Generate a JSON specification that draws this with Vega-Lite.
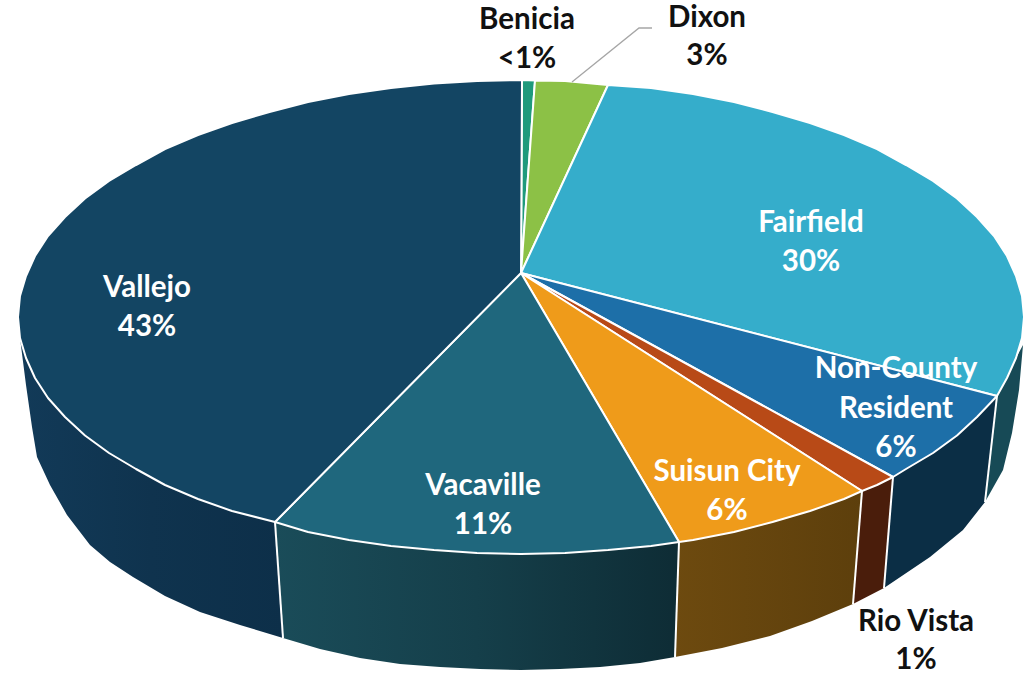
{
"$schema":"https://vega.github.io/schema/vega-lite/v6.json",
"width":1031,"height":674,"padding":0,"autosize":{"type":"none"},
"background":"white",
"config":{"view":{"stroke":null}},
"resolve":{"scale":{"fill":"independent"}},
"datasets":{
"top":[
{"slice":"Benicia","i":0,"x":521,"y":273},{"slice":"Benicia","i":1,"x":522,"y":80},{"slice":"Benicia","i":2,"x":535,"y":80.5},
{"slice":"Dixon","i":0,"x":521,"y":273},{"slice":"Dixon","i":1,"x":535,"y":80.5},{"slice":"Dixon","i":2,"x":565,"y":81},{"slice":"Dixon","i":3,"x":608,"y":85},
{"slice":"Fairfield","i":0,"x":521,"y":273},{"slice":"Fairfield","i":1,"x":608,"y":85},{"slice":"Fairfield","i":2,"x":651,"y":88},{"slice":"Fairfield","i":3,"x":693,"y":94},{"slice":"Fairfield","i":4,"x":734,"y":102},{"slice":"Fairfield","i":5,"x":772.5,"y":112},{"slice":"Fairfield","i":6,"x":810,"y":123},{"slice":"Fairfield","i":7,"x":844,"y":135},{"slice":"Fairfield","i":8,"x":877,"y":149},{"slice":"Fairfield","i":9,"x":906,"y":165},{"slice":"Fairfield","i":10,"x":933,"y":181},{"slice":"Fairfield","i":11,"x":957,"y":198.5},{"slice":"Fairfield","i":12,"x":977,"y":217},{"slice":"Fairfield","i":13,"x":994,"y":236},{"slice":"Fairfield","i":14,"x":1007,"y":256},{"slice":"Fairfield","i":15,"x":1016,"y":276},{"slice":"Fairfield","i":16,"x":1022,"y":296},{"slice":"Fairfield","i":17,"x":1024,"y":317},{"slice":"Fairfield","i":18,"x":1022,"y":338},{"slice":"Fairfield","i":19,"x":1016,"y":358},{"slice":"Fairfield","i":20,"x":1007,"y":378},{"slice":"Fairfield","i":21,"x":997,"y":396},
{"slice":"Non-County Resident","i":0,"x":521,"y":273},{"slice":"Non-County Resident","i":1,"x":997,"y":396},{"slice":"Non-County Resident","i":2,"x":977,"y":417},{"slice":"Non-County Resident","i":3,"x":957,"y":435.5},{"slice":"Non-County Resident","i":4,"x":933,"y":453},{"slice":"Non-County Resident","i":5,"x":906,"y":469},{"slice":"Non-County Resident","i":6,"x":893,"y":477},
{"slice":"Rio Vista","i":0,"x":521,"y":273},{"slice":"Rio Vista","i":1,"x":893,"y":477},{"slice":"Rio Vista","i":2,"x":877,"y":485},{"slice":"Rio Vista","i":3,"x":862,"y":491},
{"slice":"Suisun City","i":0,"x":521,"y":273},{"slice":"Suisun City","i":1,"x":862,"y":491},{"slice":"Suisun City","i":2,"x":844,"y":499},{"slice":"Suisun City","i":3,"x":810,"y":511},{"slice":"Suisun City","i":4,"x":772.5,"y":522},{"slice":"Suisun City","i":5,"x":734,"y":532},{"slice":"Suisun City","i":6,"x":693,"y":540},{"slice":"Suisun City","i":7,"x":679,"y":542},
{"slice":"Vacaville","i":0,"x":521,"y":273},{"slice":"Vacaville","i":1,"x":679,"y":542},{"slice":"Vacaville","i":2,"x":651,"y":546},{"slice":"Vacaville","i":3,"x":608,"y":550},{"slice":"Vacaville","i":4,"x":565,"y":553},{"slice":"Vacaville","i":5,"x":521,"y":554},{"slice":"Vacaville","i":6,"x":477,"y":553},{"slice":"Vacaville","i":7,"x":434,"y":550},{"slice":"Vacaville","i":8,"x":391,"y":546},{"slice":"Vacaville","i":9,"x":349,"y":540},{"slice":"Vacaville","i":10,"x":308,"y":532},{"slice":"Vacaville","i":11,"x":275,"y":522},
{"slice":"Vallejo","i":0,"x":521,"y":273},{"slice":"Vallejo","i":1,"x":275,"y":522},{"slice":"Vallejo","i":2,"x":232,"y":511},{"slice":"Vallejo","i":3,"x":198,"y":499},{"slice":"Vallejo","i":4,"x":165,"y":485},{"slice":"Vallejo","i":5,"x":136,"y":469},{"slice":"Vallejo","i":6,"x":109,"y":453},{"slice":"Vallejo","i":7,"x":85,"y":435.5},{"slice":"Vallejo","i":8,"x":65,"y":417},{"slice":"Vallejo","i":9,"x":48,"y":398},{"slice":"Vallejo","i":10,"x":35,"y":378},{"slice":"Vallejo","i":11,"x":26,"y":358},{"slice":"Vallejo","i":12,"x":20,"y":338},{"slice":"Vallejo","i":13,"x":18,"y":317},{"slice":"Vallejo","i":14,"x":20,"y":296},{"slice":"Vallejo","i":15,"x":26,"y":276},{"slice":"Vallejo","i":16,"x":35,"y":256},{"slice":"Vallejo","i":17,"x":48,"y":236},{"slice":"Vallejo","i":18,"x":65,"y":217},{"slice":"Vallejo","i":19,"x":85,"y":198.5},{"slice":"Vallejo","i":20,"x":109,"y":181},{"slice":"Vallejo","i":21,"x":136,"y":165},{"slice":"Vallejo","i":22,"x":165,"y":149},{"slice":"Vallejo","i":23,"x":198,"y":135},{"slice":"Vallejo","i":24,"x":232,"y":123},{"slice":"Vallejo","i":25,"x":269.5,"y":112},{"slice":"Vallejo","i":26,"x":308,"y":102},{"slice":"Vallejo","i":27,"x":349,"y":94},{"slice":"Vallejo","i":28,"x":391,"y":88},{"slice":"Vallejo","i":29,"x":434,"y":83.6},{"slice":"Vallejo","i":30,"x":477,"y":81},{"slice":"Vallejo","i":31,"x":522,"y":80}
],
"side":[
{"slice":"Vallejo","i":0,"x":20,"y":338},{"slice":"Vallejo","i":1,"x":26,"y":358},{"slice":"Vallejo","i":2,"x":35,"y":378},{"slice":"Vallejo","i":3,"x":48,"y":398},{"slice":"Vallejo","i":4,"x":65,"y":417},{"slice":"Vallejo","i":5,"x":85,"y":435.5},{"slice":"Vallejo","i":6,"x":109,"y":453},{"slice":"Vallejo","i":7,"x":136,"y":469},{"slice":"Vallejo","i":8,"x":165,"y":485},{"slice":"Vallejo","i":9,"x":198,"y":499},{"slice":"Vallejo","i":10,"x":232,"y":511},{"slice":"Vallejo","i":11,"x":275,"y":522},{"slice":"Vallejo","i":12,"x":283,"y":638},{"slice":"Vallejo","i":13,"x":240,"y":625},{"slice":"Vallejo","i":14,"x":200,"y":612},{"slice":"Vallejo","i":15,"x":165,"y":596},{"slice":"Vallejo","i":16,"x":133,"y":577},{"slice":"Vallejo","i":17,"x":110,"y":562},{"slice":"Vallejo","i":18,"x":90,"y":545},{"slice":"Vallejo","i":19,"x":67,"y":515},{"slice":"Vallejo","i":20,"x":50,"y":485},{"slice":"Vallejo","i":21,"x":37,"y":457},{"slice":"Vallejo","i":22,"x":32,"y":427},{"slice":"Vallejo","i":23,"x":26,"y":385},
{"slice":"Vacaville","i":0,"x":275,"y":522},{"slice":"Vacaville","i":1,"x":308,"y":532},{"slice":"Vacaville","i":2,"x":349,"y":540},{"slice":"Vacaville","i":3,"x":391,"y":546},{"slice":"Vacaville","i":4,"x":434,"y":550},{"slice":"Vacaville","i":5,"x":477,"y":553},{"slice":"Vacaville","i":6,"x":521,"y":554},{"slice":"Vacaville","i":7,"x":565,"y":553},{"slice":"Vacaville","i":8,"x":608,"y":550},{"slice":"Vacaville","i":9,"x":651,"y":546},{"slice":"Vacaville","i":10,"x":679,"y":542},{"slice":"Vacaville","i":11,"x":675,"y":657},{"slice":"Vacaville","i":12,"x":640,"y":663},{"slice":"Vacaville","i":13,"x":600,"y":667},{"slice":"Vacaville","i":14,"x":560,"y":669},{"slice":"Vacaville","i":15,"x":521,"y":670},{"slice":"Vacaville","i":16,"x":480,"y":669},{"slice":"Vacaville","i":17,"x":440,"y":667},{"slice":"Vacaville","i":18,"x":400,"y":664},{"slice":"Vacaville","i":19,"x":360,"y":658},{"slice":"Vacaville","i":20,"x":320,"y":649},{"slice":"Vacaville","i":21,"x":283,"y":638},
{"slice":"Suisun City","i":0,"x":679,"y":542},{"slice":"Suisun City","i":1,"x":693,"y":540},{"slice":"Suisun City","i":2,"x":734,"y":532},{"slice":"Suisun City","i":3,"x":772.5,"y":522},{"slice":"Suisun City","i":4,"x":810,"y":511},{"slice":"Suisun City","i":5,"x":844,"y":499},{"slice":"Suisun City","i":6,"x":862,"y":491},{"slice":"Suisun City","i":7,"x":853,"y":604},{"slice":"Suisun City","i":8,"x":812,"y":621},{"slice":"Suisun City","i":9,"x":770,"y":636},{"slice":"Suisun City","i":10,"x":722,"y":648},{"slice":"Suisun City","i":11,"x":675,"y":657},
{"slice":"Rio Vista","i":0,"x":862,"y":491},{"slice":"Rio Vista","i":1,"x":877,"y":485},{"slice":"Rio Vista","i":2,"x":893,"y":477},{"slice":"Rio Vista","i":3,"x":884,"y":588},{"slice":"Rio Vista","i":4,"x":853,"y":604},
{"slice":"Non-County Resident","i":0,"x":893,"y":477},{"slice":"Non-County Resident","i":1,"x":906,"y":469},{"slice":"Non-County Resident","i":2,"x":933,"y":453},{"slice":"Non-County Resident","i":3,"x":957,"y":435.5},{"slice":"Non-County Resident","i":4,"x":977,"y":417},{"slice":"Non-County Resident","i":5,"x":997,"y":396},{"slice":"Non-County Resident","i":6,"x":985,"y":502},{"slice":"Non-County Resident","i":7,"x":963,"y":530},{"slice":"Non-County Resident","i":8,"x":930,"y":557},{"slice":"Non-County Resident","i":9,"x":884,"y":588},
{"slice":"Fairfield","i":0,"x":997,"y":396},{"slice":"Fairfield","i":1,"x":1007,"y":378},{"slice":"Fairfield","i":2,"x":1016,"y":358},{"slice":"Fairfield","i":3,"x":1023,"y":345},{"slice":"Fairfield","i":4,"x":1019,"y":390},{"slice":"Fairfield","i":5,"x":1012,"y":433},{"slice":"Fairfield","i":6,"x":1003,"y":470},{"slice":"Fairfield","i":7,"x":985,"y":502}
],
"edges":[
{"x":275,"y":522,"x2":283,"y2":638},{"x":679,"y":542,"x2":675,"y2":657},{"x":862,"y":491,"x2":853,"y2":604},{"x":893,"y":477,"x2":884,"y2":588},{"x":997,"y":396,"x2":985,"y2":502}
],
"labels":[
{"text":"Benicia","x":527,"y":20,"tone":"outside"},{"text":"<1%","x":527,"y":59,"tone":"outside"},
{"text":"Dixon","x":707,"y":18,"tone":"outside"},{"text":"3%","x":707,"y":56,"tone":"outside"},
{"text":"Fairfield","x":811,"y":223,"tone":"inside"},{"text":"30%","x":811,"y":262,"tone":"inside"},
{"text":"Vallejo","x":147,"y":288,"tone":"inside"},{"text":"43%","x":147,"y":327,"tone":"inside"},
{"text":"Vacaville","x":483,"y":486,"tone":"inside"},{"text":"11%","x":483,"y":525,"tone":"inside"},
{"text":"Suisun City","x":727,"y":472,"tone":"inside"},{"text":"6%","x":727,"y":511,"tone":"inside"},
{"text":"Non-County","x":896,"y":369,"tone":"inside"},{"text":"Resident","x":896,"y":409,"tone":"inside"},{"text":"6%","x":896,"y":448,"tone":"inside"},
{"text":"Rio Vista","x":916,"y":622,"tone":"outside"},{"text":"1%","x":916,"y":660,"tone":"outside"}
]
},
"encoding":{
"x":{"field":"x","type":"quantitative","scale":{"domain":[0,1031],"nice":false,"zero":false},"axis":null},
"y":{"field":"y","type":"quantitative","scale":{"domain":[674,0],"nice":false,"zero":false},"axis":null}
},
"layer":[
{"data":{"name":"side"},"transform":[{"filter":"datum.slice==='Vallejo'"}],
 "mark":{"type":"line","filled":true,"interpolate":"linear-closed","strokeWidth":0,
 "fill":{"gradient":"linear","x1":0,"y1":0,"x2":1,"y2":0,"stops":[{"offset":0,"color":"#123a58"},{"offset":0.5,"color":"#0f334e"},{"offset":1,"color":"#0d2f49"}]}},
 "encoding":{"order":{"field":"i","type":"quantitative"}}},
{"data":{"name":"side"},"transform":[{"filter":"datum.slice==='Vacaville'"}],
 "mark":{"type":"line","filled":true,"interpolate":"linear-closed","strokeWidth":0,
 "fill":{"gradient":"linear","x1":0,"y1":0,"x2":1,"y2":0,"stops":[{"offset":0,"color":"#1a4c59"},{"offset":0.5,"color":"#153f4a"},{"offset":1,"color":"#0e2c35"}]}},
 "encoding":{"order":{"field":"i","type":"quantitative"}}},
{"data":{"name":"side"},"transform":[{"filter":"datum.slice==='Suisun City'"}],
 "mark":{"type":"line","filled":true,"interpolate":"linear-closed","strokeWidth":0,
 "fill":{"gradient":"linear","x1":0,"y1":0,"x2":1,"y2":0,"stops":[{"offset":0,"color":"#6d4a0f"},{"offset":1,"color":"#5d3f0c"}]}},
 "encoding":{"order":{"field":"i","type":"quantitative"}}},
{"data":{"name":"side"},"transform":[{"filter":"datum.slice==='Rio Vista'||datum.slice==='Non-County Resident'||datum.slice==='Fairfield'"}],
 "mark":{"type":"line","filled":true,"interpolate":"linear-closed","strokeWidth":0},
 "encoding":{"order":{"field":"i","type":"quantitative"},
  "fill":{"field":"slice","type":"nominal","legend":null,"scale":{"domain":["Rio Vista","Non-County Resident","Fairfield"],"range":["#4a1d0b","#0b2e45","#174a56"]}}}},
{"data":{"name":"edges"},"mark":{"type":"rule","color":"#ffffff","strokeWidth":2},
 "encoding":{"x2":{"field":"x2"},"y2":{"field":"y2"}}},
{"data":{"name":"top"},
 "mark":{"type":"line","filled":true,"interpolate":"linear-closed","stroke":"#ffffff","strokeWidth":2,"strokeJoin":"round"},
 "encoding":{"order":{"field":"i","type":"quantitative"},
  "fill":{"field":"slice","type":"nominal","legend":null,"scale":{"domain":["Benicia","Dixon","Fairfield","Non-County Resident","Rio Vista","Suisun City","Vacaville","Vallejo"],"range":["#1f9a7c","#8cc146","#35adcb","#1d6fa8","#b84a17","#ef9b1a","#1f677d","#134563"]}}}},
{"data":{"values":[{"x":652,"y":28,"i":0},{"x":639,"y":28,"i":1},{"x":572,"y":82,"i":2}]},
 "mark":{"type":"line","color":"#a6a6a6","strokeWidth":1.3},
 "encoding":{"order":{"field":"i","type":"quantitative"}}},
{"data":{"name":"labels"},
 "mark":{"type":"text","font":"Lato","fontWeight":"bold","fontSize":29.5,"align":"center","baseline":"middle"},
 "encoding":{"text":{"field":"text","type":"nominal"},
  "color":{"field":"tone","type":"nominal","legend":null,"scale":{"domain":["inside","outside"],"range":["#ffffff","#111111"]}}}}
]
}
